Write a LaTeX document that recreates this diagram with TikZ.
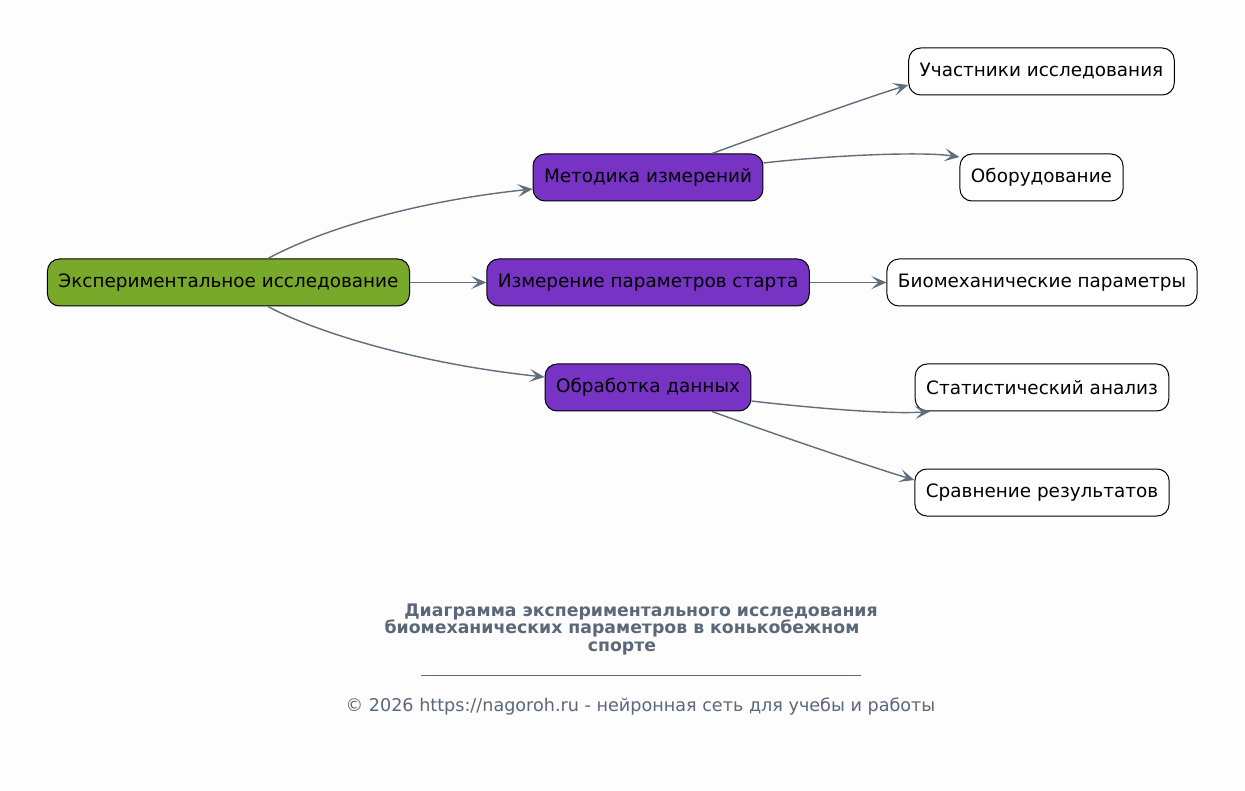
\documentclass[tikz,border=0pt]{standalone}
\usepackage{fontspec}
\setmainfont{DejaVu Sans}
\usetikzlibrary{arrows.meta}
\definecolor{bgc}{HTML}{FDFDFD}
\definecolor{rootc}{HTML}{78A92A}
\definecolor{midc}{HTML}{7733C4}
\definecolor{edgec}{HTML}{5F6D7D}
\definecolor{titlec}{HTML}{5A6878}
\tikzset{
  box/.style={draw=black, line width=1pt, rounded corners=12pt, minimum height=47pt,
    inner xsep=11pt, inner ysep=0pt, font=\fontsize{18.4}{22}\selectfont, text=black},
  rootbox/.style={box, fill=rootc},
  midbox/.style={box, fill=midc},
  leafbox/.style={box, fill=white},
  conn/.style={draw=edgec, line width=1.4pt, -{Stealth[length=15pt,width=13pt,inset=7pt]}},
  titletext/.style={font=\fontsize{17.3}{20}\bfseries, text=titlec, anchor=base, inner sep=0pt},
}
\begin{document}
\begin{tikzpicture}[x=1pt,y=-1pt]
\fill[bgc] (0,0) rectangle (1245,791);
\useasboundingbox (0,0) rectangle (1245,791);
\node[rootbox] (root) at (228.5,282.5) {Экспериментальное исследование};
\node[midbox] (met) at (648,177.5) {Методика измерений};
\node[midbox] (izm) at (648,282.5) {Измерение параметров старта};
\node[midbox] (obr) at (648,387.5) {Обработка данных};
\node[leafbox] (uch) at (1041.5,71.5) {Участники исследования};
\node[leafbox] (obo) at (1041.5,177.5) {Оборудование};
\node[leafbox] (bio) at (1042,282.5) {Биомеханические параметры};
\node[leafbox] (sta) at (1042,387.5) {Статистический анализ};
\node[leafbox] (sra) at (1042,492.5) {Сравнение результатов};

\draw[conn] ([xshift=39.5pt]root.north) .. controls +(42,-23) and +(-133,14) .. ([yshift=-11.5pt]met.west);
\draw[conn] (root.east) -- (izm.west);
\draw[conn] ([xshift=39.5pt]root.south) .. controls +(42,23) and +(-133,-14) .. ([yshift=10.5pt]obr.west);
\draw[conn] ([xshift=64pt]met.north) .. controls +(60,-22) and +(-40,12) .. ([yshift=-13.5pt]uch.west);
\draw[conn] ([yshift=14.5pt]met.east) .. controls +(60,-7) and +(-40,-6) .. ([yshift=20.5pt]obo.west);
\draw[conn] (izm.east) -- (bio.west);
\draw[conn] ([yshift=-13.5pt]obr.east) .. controls +(60,7) and +(-40,3) .. ([xshift=-112pt]sta.south);
\draw[conn] ([xshift=64pt]obr.south) .. controls +(60,22) and +(-40,-12) .. ([yshift=12.5pt]sra.west);

\node[titletext] (t1) at (641,616) {Диаграмма экспериментального исследования};
\node[titletext] (t2) at (622,633.5) {биомеханических параметров в конькобежном};
\node[titletext] (t3) at (622,651.5) {спорте};
\coordinate (ul1) at (421,675);
\coordinate (ul2) at (861,675);
\draw[titlec, line width=0.8pt] (ul1) -- (ul2);
\node[font=\fontsize{17.6}{21}\selectfont, text=titlec] (foot) at (640.5,706) {© 2026 https://nagoroh.ru - нейронная сеть для учебы и работы};
\end{tikzpicture}
\end{document}
